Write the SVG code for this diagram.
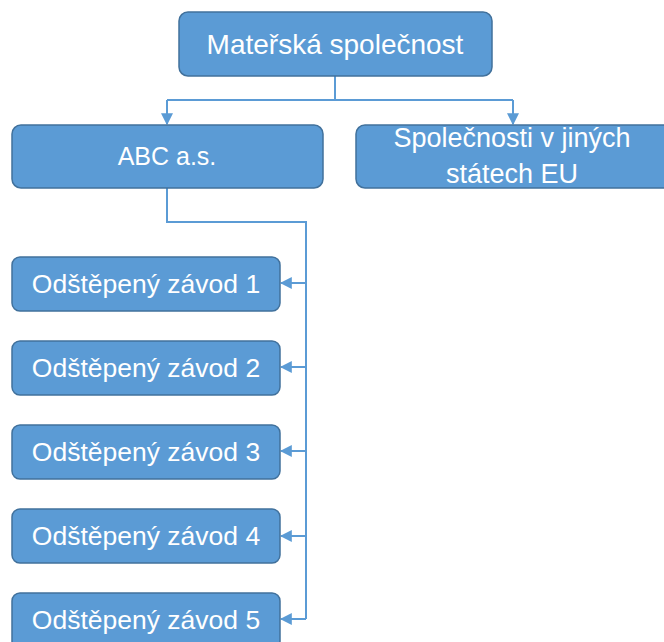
<svg xmlns="http://www.w3.org/2000/svg" width="664" height="642" viewBox="0 0 664 642">
<defs>
<style>
.box{fill:#5b9bd5;stroke:#41719c;stroke-width:1.5}
.t{fill:#ffffff;font-family:"Liberation Sans","Noto Sans",Arial,sans-serif;font-size:26.5px;text-anchor:middle}
.c{fill:none;stroke:#5b9bd5;stroke-width:2}
</style>
<marker id="ah" viewBox="0 0 10 10" refX="9" refY="5" markerWidth="6" markerHeight="6" orient="auto" markerUnits="strokeWidth">
<path d="M0,0 L10,5 L0,10 z" fill="#5b9bd5"/>
</marker>
</defs>
<g id="connectors">
<path class="c" d="M335,76 V100"/>
<path class="c" d="M167,100 H513"/>
<path class="c" d="M167,100 V124" marker-end="url(#ah)"/>
<path class="c" d="M513,100 V124" marker-end="url(#ah)"/>
<path class="c" d="M167,188 V222 H306 V619"/>
<path class="c" d="M306,283 H281" marker-end="url(#ah)"/>
<path class="c" d="M306,367 H281" marker-end="url(#ah)"/>
<path class="c" d="M306,451 H281" marker-end="url(#ah)"/>
<path class="c" d="M306,536 H281" marker-end="url(#ah)"/>
<path class="c" d="M306,619 H281" marker-end="url(#ah)"/>
</g>
<g id="n-materska">
<rect class="box" x="179" y="12" width="313" height="64" rx="9"/>
<text class="t" x="335" y="54" style="font-size:28px">Mateřská společnost</text>
</g>
<g id="n-abc">
<rect class="box" x="12" y="125" width="311" height="63" rx="9"/>
<text class="t" x="167" y="165" style="font-size:25px">ABC a.s.</text>
</g>
<g id="n-eu">
<rect class="box" x="356" y="125" width="320" height="63" rx="9"/>
<text class="t" x="512" y="147" style="font-size:27px">Společnosti v jiných</text>
<text class="t" x="512" y="183" style="font-size:27px">státech EU</text>
</g>
<g id="n-oz1">
<rect class="box" x="12" y="257" width="268" height="54" rx="8"/>
<text class="t" x="146" y="293">Odštěpený závod 1</text>
</g>
<g id="n-oz2">
<rect class="box" x="12" y="341" width="268" height="54" rx="8"/>
<text class="t" x="146" y="377">Odštěpený závod 2</text>
</g>
<g id="n-oz3">
<rect class="box" x="12" y="425" width="268" height="54" rx="8"/>
<text class="t" x="146" y="461">Odštěpený závod 3</text>
</g>
<g id="n-oz4">
<rect class="box" x="12" y="509" width="268" height="54" rx="8"/>
<text class="t" x="146" y="545">Odštěpený závod 4</text>
</g>
<g id="n-oz5">
<rect class="box" x="12" y="593" width="268" height="56" rx="8"/>
<text class="t" x="146" y="629">Odštěpený závod 5</text>
</g>
</svg>
